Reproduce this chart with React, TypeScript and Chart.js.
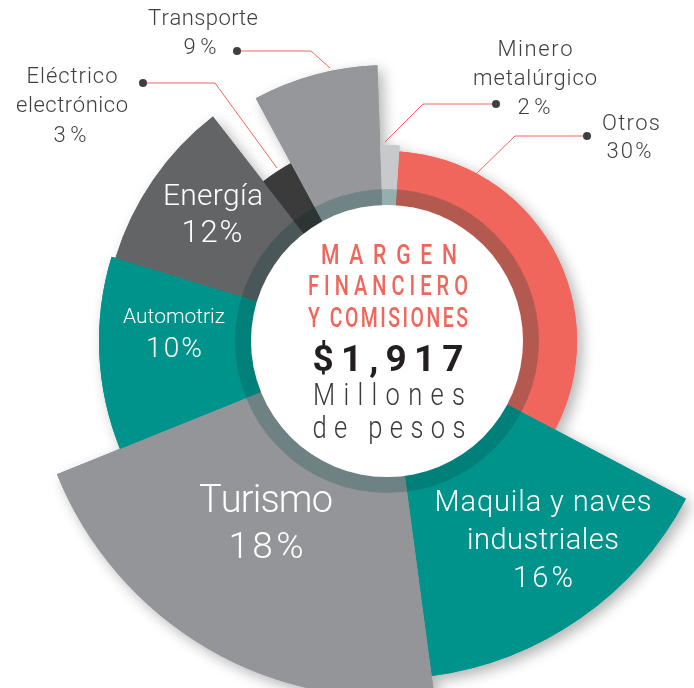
import { useEffect, useRef } from 'react';
import { Chart, registerables } from 'chart.js';

Chart.register(...registerables);

// ---- data ----
const sectors = ['Otros', 'Maquila y naves industriales', 'Turismo', 'Automotriz', 'Energía', 'Eléctrico electrónico', 'Transporte', 'Minero metalúrgico'];
const shares = [30, 16, 18, 10, 12, 3, 9, 2];
// sweep of each sector as drawn in the picture (degrees, clockwise)
const sweepDeg = [114.1, 54.6, 75.6, 39, 35.2, 9.4, 26.4, 5.7];
const startDeg = 3.7;
// outer radius of each sector as drawn (px at scale max 360)
const radii = [190, 338, 356, 288, 284, 202, 276, 196];
const totalLabel = '$1,917';
const centerTitle = ['MARGEN', 'FINANCIERO', 'Y COMISIONES'];
const centerUnit = ['Millones', 'de pesos'];

// ---- styles ----
const colors = ['#F0665C', '#00938C', '#939598', '#00938C', '#636466', '#3B3B3C', '#96979A', '#C8C9CB'];
const FONT = 'Roboto, "Open Sans", "Liberation Sans", sans-serif';
const CX = 387;
const CY = 341;
const CANVAS_TOP = CY - 360;

// inner labels: [text, centerX, centerY, fontSize, width]
const inner = [
  { idx: 4, lines: [['Energía', 213, 197, 30, 100], ['%', 212, 234, 31, 61]] },
  { idx: 3, lines: [['Automotriz', 174, 318, 21, 102], ['%', 174, 350, 28, 56]] },
  { idx: 2, lines: [['Turismo', 266, 502, 38, 134], ['%', 266, 549, 37, 75]] },
  { idx: 1, lines: [['Maquila y naves', 543, 504, 29, 217], ['industriales', 543, 542, 29, 152], ['%', 543, 580, 29, 60]] },
];

const outer = [
  { idx: 6, lines: [['Transporte', 203, 19, 110], ['%', 200, 48, 33]], path: [[237, 51], [311, 51], [330, 68]] },
  { idx: 5, lines: [['Eléctrico', 72, 77, 91], ['electrónico', 72, 106, 112], ['%', 70, 136, 33]], path: [[143, 83], [215, 83], [277, 168]] },
  { idx: 7, lines: [['Minero', 535, 50, 75], ['metalúrgico', 535, 79, 124], ['%', 534, 108, 33]], path: [[496, 104], [423, 104], [385, 142]] },
  { idx: 0, lines: [['Otros', 631, 124, 58], ['%', 629, 152, 45]], path: [[587, 136], [515, 136], [477, 173]] },
];

function drawSpaced(ctx: CanvasRenderingContext2D, text: string, cx: number, y: number, font: string, color: string, targetW: number, sx: number) {
  ctx.font = font;
  ctx.fillStyle = color;
  ctx.textBaseline = 'middle';
  ctx.textAlign = 'left';
  const chars = [...text];
  const ws = chars.map((c) => ctx.measureText(c).width * sx);
  const sum = ws.reduce((a, b) => a + b, 0);
  const gap = chars.length > 1 ? (targetW - sum) / (chars.length - 1) : 0;
  let x = cx - targetW / 2;
  chars.forEach((c, i) => {
    ctx.save();
    ctx.translate(x, y);
    ctx.scale(sx, 1);
    ctx.fillText(c, 0, 0);
    ctx.restore();
    x += ws[i] + gap;
  });
}

const labelText = (t: string, idx: number) => (t === '%' ? `${shares[idx]}%` : t);

const shadowPlugin = {
  id: 'sliceShadow',
  beforeDatasetsDraw(chart: any) {
    const ctx = chart.ctx as CanvasRenderingContext2D;
    const meta = chart.getDatasetMeta(0);
    ctx.save();
    ctx.shadowColor = 'rgba(0,0,0,0.3)';
    ctx.shadowBlur = 14;
    ctx.shadowOffsetX = 5;
    ctx.shadowOffsetY = 5;
    meta.data.forEach((el: any) => el.draw(ctx));
    ctx.restore();
  },
};

const overlayPlugin = {
  id: 'overlay',
  afterDatasetsDraw(chart: any) {
    const ctx = chart.ctx as CanvasRenderingContext2D;
    ctx.save();
    ctx.translate(0, -CANVAS_TOP);
    // ring
    ctx.globalCompositeOperation = 'multiply';
    ctx.beginPath();
    ctx.arc(CX, CY, 152, 0, Math.PI * 2);
    ctx.arc(CX, CY, 136, 0, Math.PI * 2, true);
    ctx.fillStyle = 'rgb(190,222,220)';
    ctx.fill();
    ctx.globalCompositeOperation = 'source-over';
    ctx.beginPath();
    ctx.arc(CX, CY, 136, 0, Math.PI * 2);
    ctx.fillStyle = '#ffffff';
    ctx.fill();

    // center text
    drawSpaced(ctx, centerTitle[0], 389, 257, `500 27px ${FONT}`, '#F0665C', 136, 0.78);
    drawSpaced(ctx, centerTitle[1], 388, 288, `500 27px ${FONT}`, '#F0665C', 160, 0.74);
    drawSpaced(ctx, centerTitle[2], 388, 320, `500 27px ${FONT}`, '#F0665C', 160, 0.72);
    drawSpaced(ctx, totalLabel, 388, 362, `bold 37px ${FONT}`, '#231F20', 151, 1);
    drawSpaced(ctx, centerUnit[0], 389, 397, `300 32px ${FONT}`, '#3A3A3C', 152, 0.8);
    drawSpaced(ctx, centerUnit[1], 389, 430, `300 32px ${FONT}`, '#3A3A3C', 153, 0.8);

    // inner labels
    inner.forEach((l) => {
      l.lines.forEach((ln: any) => {
        const [t, x, y, size, w] = ln;
        drawSpaced(ctx, labelText(t, l.idx), x, y, `300 ${size}px ${FONT}`, '#ffffff', w, 1);
      });
    });

    // outer labels + leaders
    outer.forEach((l) => {
      ctx.strokeStyle = '#F0665C';
      ctx.lineWidth = 1;
      ctx.beginPath();
      l.path.forEach((p, i) => (i === 0 ? ctx.moveTo(p[0], p[1]) : ctx.lineTo(p[0], p[1])));
      ctx.stroke();
      ctx.beginPath();
      ctx.arc(l.path[0][0], l.path[0][1], 4, 0, Math.PI * 2);
      ctx.fillStyle = '#3F3F41';
      ctx.fill();
      l.lines.forEach((ln: any) => {
        const [t, x, y, w] = ln;
        drawSpaced(ctx, labelText(t, l.idx), x, y, `300 22px ${FONT}`, '#3F3F41', w, 1);
      });
    });
    ctx.restore();
  },
};

export default function App() {
  const ref = useRef<HTMLCanvasElement>(null);
  useEffect(() => {
    const chart = new Chart(ref.current as HTMLCanvasElement, {
      type: 'polarArea',
      data: {
        labels: sectors,
        datasets: [
          {
            data: radii,
            backgroundColor: colors,
            borderWidth: 0,
            angle: sweepDeg,
          } as any,
        ],
      },
      options: {
        responsive: false,
        animation: false,
        devicePixelRatio: 1,
        layout: { padding: 0 },
        plugins: { legend: { display: false }, tooltip: { enabled: false } },
        scales: {
          r: { display: false, min: 0, max: 360, startAngle: startDeg, ticks: { display: false } },
        },
      } as any,
      plugins: [shadowPlugin, overlayPlugin],
    });
    return () => chart.destroy();
  }, []);
  return (
    <div style={{ position: 'fixed', left: 0, top: 0, width: 694, height: 688, overflow: 'hidden', background: '#fff' }}>
      <canvas ref={ref} width={2 * CX} height={720} style={{ position: 'absolute', left: 0, top: CANVAS_TOP }} />
    </div>
  );
}
